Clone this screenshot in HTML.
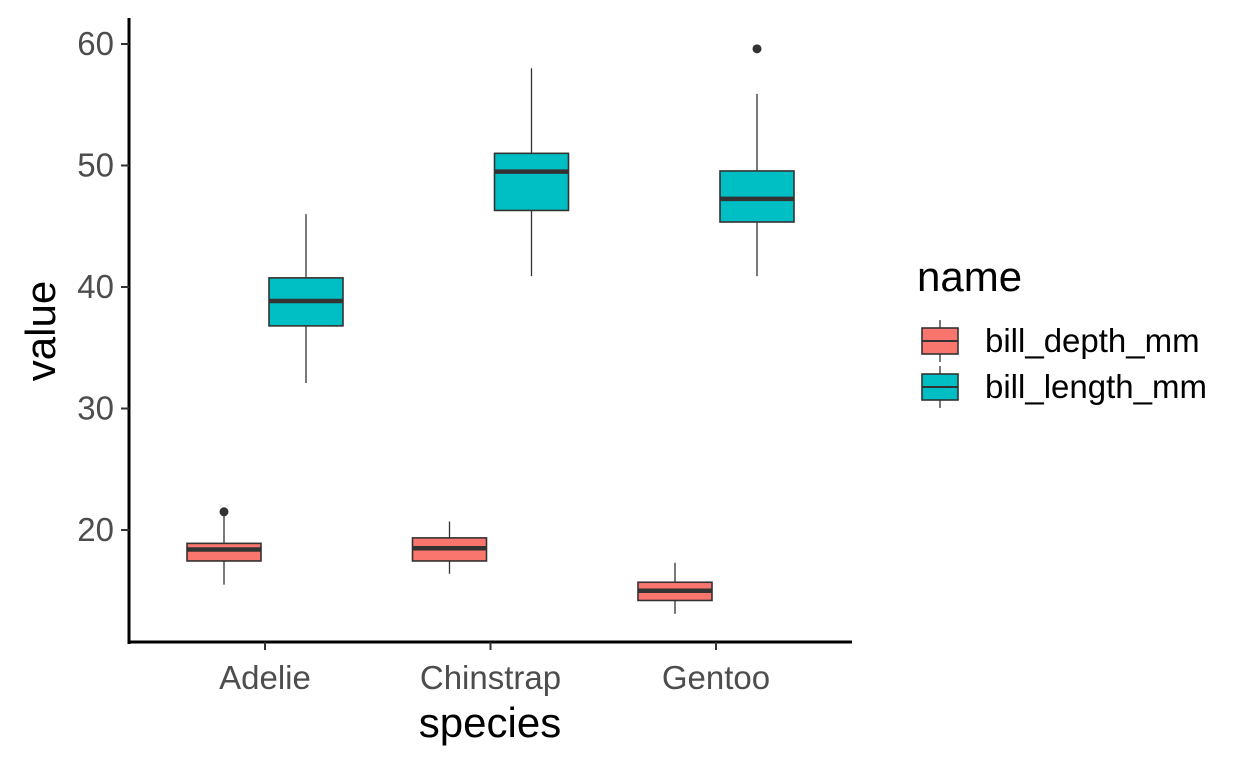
<!DOCTYPE html>
<html><head><meta charset="utf-8"><style>
body{margin:0;background:#fff}
svg text{font-family:"Liberation Sans",sans-serif}
</style></head><body>
<svg width="1248" height="768" id="c"></svg>
<script>
const categories=["Adelie","Chinstrap","Gentoo"];
const seriesNames=["bill_depth_mm","bill_length_mm"];
// [lowWhisker,Q1,median,Q3,highWhisker]
const depthStats=[[15.5,17.45,18.4,18.9,21.2],[16.4,17.45,18.5,19.35,20.7],[13.1,14.2,15.0,15.7,17.3]];
const lengthStats=[[32.1,36.8,38.85,40.75,46.0],[40.9,46.3,49.5,51.0,58.0],[40.9,45.35,47.25,49.55,55.9]];
const depthOutliers=[[21.5],[],[]];
const lengthOutliers=[[],[],[59.6]];
const yTicks=[20,30,40,50,60];
const colors=["#F8766D","#00BFC4"];
const svg=document.getElementById('c');const NS="http://www.w3.org/2000/svg";
function el(t,a,p){const e=document.createElementNS(NS,t);for(const k in a)e.setAttribute(k,a[k]);(p||svg).appendChild(e);return e;}
const y=v=>773-v*12.15;
const x=i=>265+i*225.5;
const bw=74,off=41;
let ax=el('line',{x1:129,y1:18,x2:129,y2:644,stroke:'#000','stroke-width':3});

ax=el('line',{x1:127.5,y1:642,x2:852,y2:642,stroke:'#000','stroke-width':3});

yTicks.forEach(t=>{
 const l=el('line',{x1:121,x2:129,y1:y(t),y2:y(t),stroke:'#333','stroke-width':2});
 
 const tx=el('text',{x:114,y:y(t)+11,'text-anchor':'end','font-size':33,fill:'#4d4d4d'});tx.textContent=t;
 
});
categories.forEach((c,i)=>{
 const l=el('line',{x1:x(i),x2:x(i),y1:642,y2:650,stroke:'#333','stroke-width':2});
 
 const tx=el('text',{x:x(i),y:689,'text-anchor':'middle','font-size':33,fill:'#4d4d4d'});tx.textContent=c;
 
});
function box(cx,s,col,outs,name){
 const g=el('g',{});
 el('line',{x1:cx,x2:cx,y1:y(s[4]),y2:y(s[0]),stroke:'#333','stroke-width':1.3},g);
 el('rect',{x:cx-bw/2,y:y(s[3]),width:bw,height:y(s[1])-y(s[3]),fill:col,stroke:'#333','stroke-width':1.6},g);
 el('line',{x1:cx-bw/2,x2:cx+bw/2,y1:y(s[2]),y2:y(s[2]),stroke:'#333','stroke-width':4.5},g);
 outs.forEach(o=>el('circle',{cx:cx,cy:y(o),r:4.5,fill:'#333'},g));
}
categories.forEach((c,i)=>{
 box(x(i)-off,depthStats[i],colors[0],depthOutliers[i],'box-depth-'+c.toLowerCase());
 box(x(i)+off,lengthStats[i],colors[1],lengthOutliers[i],'box-length-'+c.toLowerCase());
});
let t=el('text',{x:490,y:737,'text-anchor':'middle','font-size':42,fill:'#000'});t.textContent='species';

t=el('text',{x:0,y:0,'text-anchor':'middle','font-size':42,fill:'#000',transform:'translate(55,331) rotate(-90)'});t.textContent='value';

t=el('text',{x:917,y:291,'font-size':42,fill:'#000'});t.textContent='name';

seriesNames.forEach((n,i)=>{
 const g=el('g',{});
 const cy=341+i*46;
 el('line',{x1:940,x2:940,y1:cy-21,y2:cy+21,stroke:'#333','stroke-width':1.3},g);
 el('rect',{x:922,y:cy-13,width:36,height:26,fill:colors[i],stroke:'#333','stroke-width':1.6},g);
 el('line',{x1:922,x2:958,y1:cy,y2:cy,stroke:'#333','stroke-width':2},g);
 const tx=el('text',{x:985,y:cy+11,'font-size':33,fill:'#000'},g);tx.textContent=n;
});
</script>
</body></html>
